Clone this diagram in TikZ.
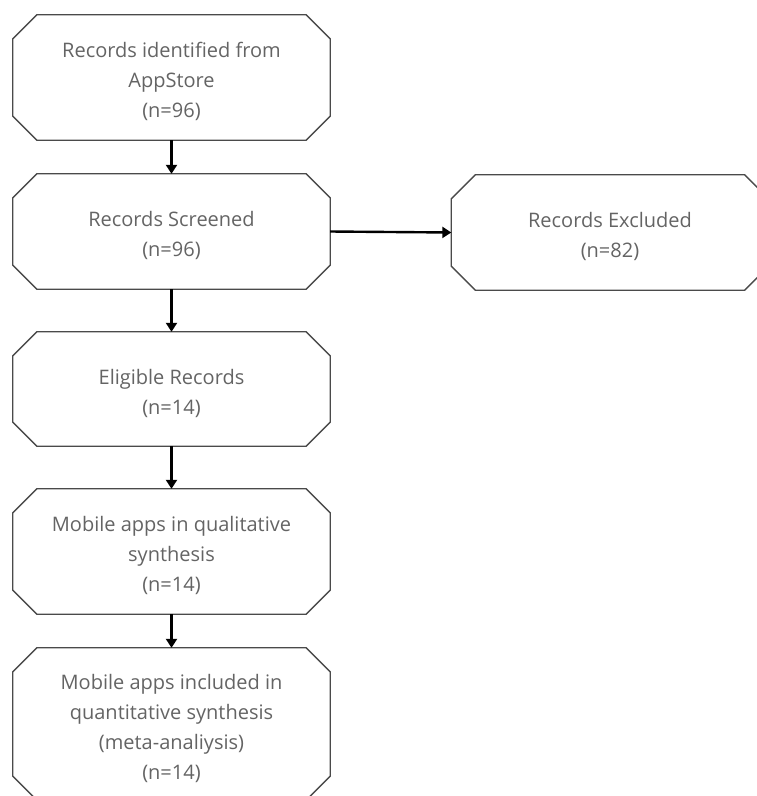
\documentclass[tikz,border=0pt]{standalone}
\usepackage{fontspec}
\setmainfont{Open Sans}
\usetikzlibrary{arrows.meta}
\definecolor{txt}{HTML}{646464}
\definecolor{edge}{HTML}{4A4A4A}
\newcommand\boxtext[1]{\raisebox{-4pt}[\height][\depth]{\begin{tabular}{@{}c@{}}#1\end{tabular}}}
\tikzset{
  box/.style={rectangle, minimum width=317pt, inner sep=0pt,
    text=txt, font=\fontsize{20pt}{30pt}\selectfont},
  outline/.style={draw=edge, line width=1.3pt, line join=miter},
  conn/.style={line width=2.4pt, -{Triangle[length=9pt,width=11pt]}}
}
\newcommand\chamf[1]{%
  \draw[outline] ([xshift=24pt]#1.north west) -- ([xshift=-24pt]#1.north east)
    -- ([yshift=-24pt]#1.north east) -- ([yshift=24pt]#1.south east)
    -- ([xshift=-24pt]#1.south east) -- ([xshift=24pt]#1.south west)
    -- ([yshift=24pt]#1.south west) -- ([yshift=-24pt]#1.north west) -- cycle;}
\begin{document}
\begin{tikzpicture}[x=1pt,y=-1pt]
\useasboundingbox (0,0) rectangle (756,796);
\node[box, minimum height=125pt] (a) at (171.5,77.5) {\boxtext{Records identified from\\AppStore\\(n=96)}};
\node[box, minimum height=115pt] (b) at (171.5,231.5) {\boxtext{Records Screened\\(n=96)}};
\node[box, minimum height=115pt] (x) at (610,232.5) {\boxtext{Records Excluded\\(n=82)}};
\node[box, minimum height=114pt] (c) at (171.5,389) {\boxtext{Eligible Records\\(n=14)}};
\node[box, minimum height=125pt] (d) at (171.5,551.5) {\boxtext{Mobile apps in qualitative\\synthesis\\(n=14)}};
\node[box, minimum height=152pt] (e) at (171.5,724) {\boxtext{Mobile apps included in\\quantitative synthesis\\(meta-analiysis)\\(n=14)}};
\chamf{a}\chamf{b}\chamf{x}\chamf{c}\chamf{d}\chamf{e}
\draw[conn] (a.south) -- (b.north);
\draw[conn] (b.east) -- (x.west);
\draw[conn] (b.south) -- (c.north);
\draw[conn] (c.south) -- (d.north);
\draw[conn] (d.south) -- (e.north);
\end{tikzpicture}
\end{document}
